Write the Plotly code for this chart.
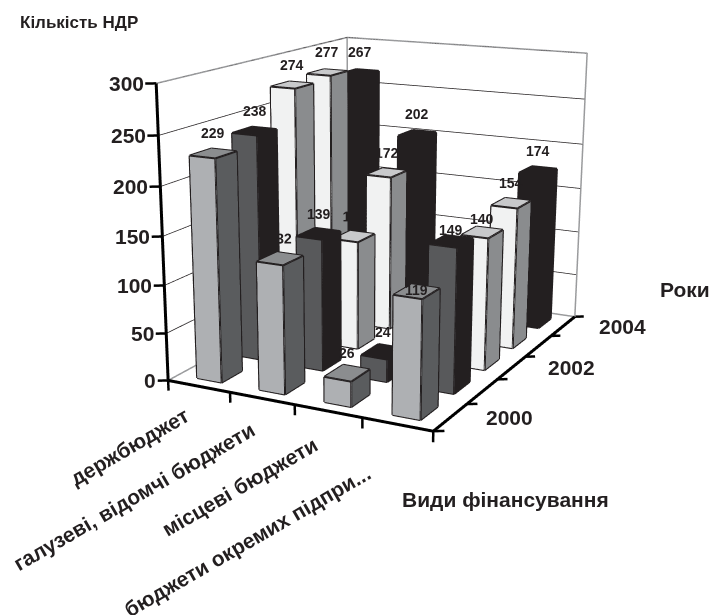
import numpy as np
import plotly.graph_objects as go

categories = ["держбюджет", "галузеві, відомчі бюджети", "місцеві бюджети", "бюджети окремих підпри..."]
years = ["2000", "2001", "2002", "2003", "2004"]
v2000 = [229, 132, 26, 119]
v2001 = [238, 139, 24, 149]
v2002 = [274, 118, 0, 140]
v2003 = [277, 172, 0, 154]
v2004 = [267, 202, 0, 174]
series = [v2000, v2001, v2002, v2003, v2004]
z_ticks = [0, 50, 100, 150, 200, 250, 300]
year_labels = ["2000", "2002", "2004"]

W, H = 709, 615
# The scene is drawn on a canvas twice the window size (a longer lens), then centred in the window.
K_ = 2
xr, yr, zr = (-0.6, 4.6), (-0.6, 5.1), (-30, 305)
mid = np.array([sum(xr)/2, sum(yr)/2, sum(zr)/2])
span = np.array([xr[1]-xr[0], yr[1]-yr[0], zr[1]-zr[0]])
# Camera solved from where the corners of the plot box sit in the window.
pts3 = np.array([[0,0,0],[4,0,0],[4,5,0],[0,5,0],[0,0,300],[0,5,300],[4,5,300]],float)
pts2 = np.array([[168,377],[433,432],[578,314],[347,287],[155,85],[347,35],[583,52]],float)
f = K_*(H/2)/np.tan(np.pi/8)
def proj(p):
    e = p[:3]; s = p[3:6]*np.array([.25,.2,1/300]); c = np.r_[p[6:8],0.0]
    P = (pts3-mid)*s
    fw = -e/np.linalg.norm(e)
    r = np.cross(fw,[0,0,1.]); r/=np.linalg.norm(r)
    u = np.cross(r,fw)
    d=P-(c+e)
    zc=d@fw
    return np.c_[W/2+f*(d@r)/zc, H/2-f*(d@u)/zc]
p = np.array([1.5,-3.,1.2,1,1,0.8,0,0],float)
for it in range(800):
    r0 = (proj(p)-pts2).ravel()
    J = np.zeros((len(r0),len(p)))
    for i in range(len(p)):
        q=p.copy(); q[i]+=1e-4
        J[:,i]=((proj(q)-pts2).ravel()-r0)/1e-4
    p = p+0.3*np.linalg.solve(J.T@J+1e-1*np.eye(len(p)),-J.T@r0)
eye = dict(x=p[0]+p[6],y=p[1]+p[7],z=p[2])
center = dict(x=p[6],y=p[7],z=0)
a = p[3:6]*np.array([.25,.2,1/300])*span
aspect=dict(x=a[0],y=a[1],z=a[2])

fig = go.Figure()
edge = "#231f20"
style = [("#aeb0b3","#5a5c5e","#8b8d8f"),("#58595b",edge,edge),("#f1f2f2","#8a8c8e","#c8c9cb"),("#f1f2f2","#8a8c8e","#c8c9cb"),(edge,edge,edge)]
bw, bd = 0.4, 0.5
FONT="Liberation Sans"
# Labels that neighbouring bars partly hide stay inside the 3D depth test; the rest float on top.
hidden_labels = {(1,0),(1,2),(1,3)}
label_yshift = {(3,0):2,(3,1):11,(3,2):13}
ann=[]
def line(x,y,z,color,width):
    fig.add_trace(go.Scatter3d(x=x,y=y,z=z,mode="lines",line=dict(color=color,width=width),showlegend=False,hoverinfo="skip"))
for t in z_ticks[1:]:
    line([0,0,4],[0,5,5],[t]*3,edge,1.5)
grey="#9a9b9d"
line([0,0,4,4,0,0],[0,5,5,5,5,5],[300,300,300,0,0,300],grey,3)
line([0,0],[0,5],[0,0],grey,3)
for j,vals in enumerate(series):
    X,Y,Z,I,JJ,K,FC=[],[],[],[],[],[],[]
    lx,ly,lz=[],[],[]
    tx,tv=[],[]
    for i,v in enumerate(vals):
        if v<=0: continue
        x0,x1=i+.5-bw/2,i+.5+bw/2
        y0,y1=j+.5-bd/2,j+.5+bd/2
        n=len(X)
        X+=[x0,x1,x1,x0,x0,x1,x1,x0]
        Y+=[y0,y0,y1,y1,y0,y0,y1,y1]
        Z+=[0,0,0,0,v,v,v,v]
        for a_,b_,c_,s_ in [(0,1,5,0),(0,5,4,0),(1,2,6,1),(1,6,5,1),(4,5,6,2),(4,6,7,2)]:
            I.append(n+a_);JJ.append(n+b_);K.append(n+c_);FC.append(style[j][s_])
        for a_,b_ in [(0,1),(1,5),(5,4),(4,0),(1,2),(2,6),(6,5),(6,7),(7,4)]:
            lx+=[X[n+a_],X[n+b_],None];ly+=[Y[n+a_],Y[n+b_],None];lz+=[Z[n+a_],Z[n+b_],None]
        if (i,j) in hidden_labels:
            tx.append(i+.5);tv.append(v)
        else:
            ann.append(dict(x=i+.5,y=j+.5,z=v,text=f"<b>{v}</b>",showarrow=False,xanchor="center",yanchor="middle",
                            yshift=label_yshift.get((i,j),20),font=dict(family=FONT,size=14,color=edge)))
    fig.add_trace(go.Mesh3d(x=X,y=Y,z=Z,i=I,j=JJ,k=K,facecolor=FC,flatshading=True,
        lighting=dict(ambient=1,diffuse=0,specular=0,fresnel=0),showscale=False,hoverinfo="skip",name=years[j]))
    line(lx,ly,lz,edge,4)
    if tx:
        fig.add_trace(go.Scatter3d(x=tx,y=[j+.5]*len(tx),z=[v+1 for v in tv],mode="text",text=[f"<b>{v}</b>" for v in tv],
            textfont=dict(family=FONT,size=14,color=edge),showlegend=False,hoverinfo="skip"))
line([0,4,4],[0,0,5],[0,0,0],"#000",6)
line([0,0],[0,0],[0,300],"#000",6)
for i in range(5):
    line([i,i],[0,0],[0,-11],"#000",5)
for j in range(6):
    line([4,4.12],[j,j+.07],[0,0],"#000",5)
for t in z_ticks:
    line([0,-.12],[0,-.07],[t,t],"#000",5)
for t in z_ticks:
    ann.append(dict(x=0,y=0,z=t,text=f"<b>{t}</b>",showarrow=False,xanchor="right",yanchor="middle",xshift=-10,font=dict(family=FONT,size=21,color=edge)))
cat_shift=[(-3,-14),(-1,-17),(-4,-19),(-21,-34)]
for i,c in enumerate(categories):
    ann.append(dict(x=i+.5,y=0,z=0,text=f"<b>{c}</b>",showarrow=False,xanchor="right",yanchor="top",xshift=cat_shift[i][0],yshift=cat_shift[i][1],textangle=-30,font=dict(family=FONT,size=21,color=edge)))
for yl,j in zip(year_labels,[0,2,4]):
    ann.append(dict(x=4,y=j+.5,z=0,text=f"<b>{yl}</b>",showarrow=False,xanchor="left",yanchor="middle",xshift=34,font=dict(family=FONT,size=21,color=edge)))
FW,FH=K_*W,K_*H
ox,oy=(FW-W)/2,(FH-H)/2
fig.update_layout(width=FW,height=FH,margin=dict(l=0,r=0,t=0,b=0),paper_bgcolor="white",showlegend=False,
 scene=dict(domain=dict(x=[0,1],y=[0,1]),
  xaxis=dict(visible=False,range=list(xr)),yaxis=dict(visible=False,range=list(yr)),zaxis=dict(visible=False,range=list(zr)),
  aspectmode="manual",aspectratio=aspect,camera=dict(eye=eye,center=center,up=dict(x=0,y=0,z=1),projection=dict(type="perspective")),
  annotations=ann))
for txt,xp,yp,sz in [("Кількість НДР",78,22,17),("Роки",684,289,21),("Види фінансування",505,499,21)]:
    fig.add_annotation(text=f"<b>{txt}</b>",x=(xp+ox)/FW,y=1-(yp+oy)/FH,xref="paper",yref="paper",xanchor="center",yanchor="middle",showarrow=False,font=dict(family=FONT,size=sz,color=edge))
fig.write_html("out.html",config=dict(displayModeBar=False),post_script=f"document.body.style.margin='-{oy}px 0 0 -{ox}px';document.body.style.overflow='hidden';")
